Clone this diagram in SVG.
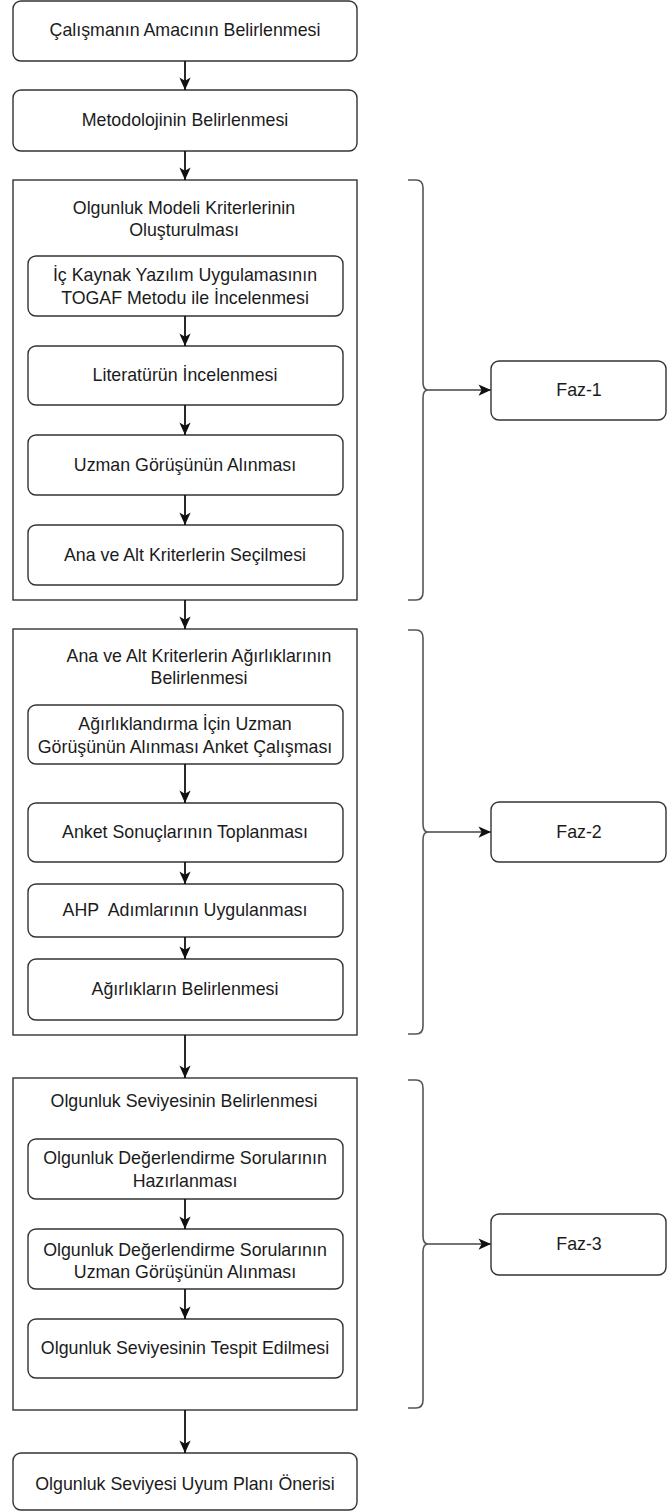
<svg xmlns="http://www.w3.org/2000/svg" width="667" height="1512" viewBox="0 0 667 1512">
  <style>
    .box { fill: #fff; stroke: #333; stroke-width: 1.4; }
    .frame { fill: #fff; stroke: #333; stroke-width: 1.4; }
    .lbl { font-family: "Liberation Sans", Arial, sans-serif; font-size: 17.8px; fill: #1b1b1b; text-anchor: middle; dominant-baseline: central; }
    .flow { stroke: #111; stroke-width: 1.8; fill: none; }
    .brace { stroke: #555; stroke-width: 1.6; fill: none; }
    .link { stroke: #444; stroke-width: 1.6; fill: none; }
  </style>
  <defs>
    <marker id="ah" viewBox="0 0 12 12" refX="11" refY="6" markerWidth="15" markerHeight="15" orient="auto" markerUnits="userSpaceOnUse">
      <path d="M1,1.5 L11,6 L1,10.5 L3.5,6 Z" fill="#111"/>
    </marker>
  </defs>

  <rect width="667" height="1512" fill="#fff"/>

  <!-- phase frames -->
  <g id="phase1">
    <rect class="frame" x="13" y="180" width="344" height="420"/>
    <text class="lbl" x="184" y="208">Olgunluk Modeli Kriterlerinin</text>
    <text class="lbl" x="184" y="230">Oluşturulması</text>
  </g>
  <g id="phase2">
    <rect class="frame" x="13" y="629" width="344" height="406"/>
    <text class="lbl" x="199" y="656">Ana ve Alt Kriterlerin Ağırlıklarının</text>
    <text class="lbl" x="199" y="678">Belirlenmesi</text>
  </g>
  <g id="phase3">
    <rect class="frame" x="13" y="1078" width="344" height="332"/>
    <text class="lbl" x="184" y="1101">Olgunluk Seviyesinin Belirlenmesi</text>
  </g>

  <!-- steps -->
  <g id="amac">
    <rect class="box" x="13" y="1" width="344" height="60" rx="8"/>
    <text class="lbl" x="185" y="30">Çalışmanın Amacının Belirlenmesi</text>
  </g>
  <g id="metodoloji">
    <rect class="box" x="13" y="90" width="344" height="61" rx="8"/>
    <text class="lbl" x="185" y="120">Metodolojinin Belirlenmesi</text>
  </g>
  <g id="togaf">
    <rect class="box" x="28" y="256" width="315" height="60" rx="8"/>
    <text class="lbl" x="185" y="275">İç Kaynak Yazılım Uygulamasının</text>
    <text class="lbl" x="185" y="298">TOGAF Metodu ile İncelenmesi</text>
  </g>
  <g id="literatur">
    <rect class="box" x="28" y="346" width="315" height="59" rx="8"/>
    <text class="lbl" x="185" y="375">Literatürün İncelenmesi</text>
  </g>
  <g id="uzman">
    <rect class="box" x="28" y="435" width="315" height="60" rx="8"/>
    <text class="lbl" x="185" y="465">Uzman Görüşünün Alınması</text>
  </g>
  <g id="secim">
    <rect class="box" x="28" y="525" width="315" height="60" rx="8"/>
    <text class="lbl" x="185" y="555">Ana ve Alt Kriterlerin Seçilmesi</text>
  </g>
  <g id="anket">
    <rect class="box" x="28" y="705" width="315" height="59" rx="8"/>
    <text class="lbl" x="185" y="724">Ağırlıklandırma İçin Uzman</text>
    <text class="lbl" x="185" y="747">Görüşünün Alınması Anket Çalışması</text>
  </g>
  <g id="sonuc">
    <rect class="box" x="28" y="803" width="315" height="59" rx="8"/>
    <text class="lbl" x="185" y="832">Anket Sonuçlarının Toplanması</text>
  </g>
  <g id="ahp">
    <rect class="box" x="28" y="884" width="315" height="53" rx="8"/>
    <text class="lbl" x="185" y="910" xml:space="preserve">AHP  Adımlarının Uygulanması</text>
  </g>
  <g id="agirlik">
    <rect class="box" x="28" y="959" width="315" height="61" rx="8"/>
    <text class="lbl" x="185" y="989">Ağırlıkların Belirlenmesi</text>
  </g>
  <g id="sorular">
    <rect class="box" x="28" y="1139" width="315" height="60" rx="8"/>
    <text class="lbl" x="185" y="1158">Olgunluk Değerlendirme Sorularının</text>
    <text class="lbl" x="185" y="1181">Hazırlanması</text>
  </g>
  <g id="gorus">
    <rect class="box" x="28" y="1229" width="315" height="60" rx="8"/>
    <text class="lbl" x="185" y="1250">Olgunluk Değerlendirme Sorularının</text>
    <text class="lbl" x="185" y="1272">Uzman Görüşünün Alınması</text>
  </g>
  <g id="tespit">
    <rect class="box" x="28" y="1319" width="315" height="59" rx="8"/>
    <text class="lbl" x="185" y="1348">Olgunluk Seviyesinin Tespit Edilmesi</text>
  </g>
  <g id="uyum">
    <rect class="box" x="13" y="1453" width="344" height="57" rx="8"/>
    <text class="lbl" x="185" y="1484">Olgunluk Seviyesi Uyum Planı Önerisi</text>
  </g>

  <!-- phase labels -->
  <g id="faz1">
    <rect class="box" x="491" y="361" width="175" height="59" rx="8"/>
    <text class="lbl" x="579" y="390">Faz-1</text>
  </g>
  <g id="faz2">
    <rect class="box" x="491" y="802" width="175" height="60" rx="8"/>
    <text class="lbl" x="579" y="832">Faz-2</text>
  </g>
  <g id="faz3">
    <rect class="box" x="491" y="1214" width="175" height="61" rx="8"/>
    <text class="lbl" x="579" y="1244">Faz-3</text>
  </g>

  <!-- connectors -->
  <g id="connectors">
    <g marker-end="url(#ah)">
      <line class="flow" x1="185" y1="61" x2="185" y2="90"/>
      <line class="flow" x1="185" y1="151" x2="185" y2="180"/>
      <line class="flow" x1="185" y1="316" x2="185" y2="346"/>
      <line class="flow" x1="185" y1="405" x2="185" y2="435"/>
      <line class="flow" x1="185" y1="495" x2="185" y2="525"/>
      <line class="flow" x1="185" y1="600" x2="185" y2="629"/>
      <line class="flow" x1="185" y1="764" x2="185" y2="803"/>
      <line class="flow" x1="185" y1="862" x2="185" y2="884"/>
      <line class="flow" x1="185" y1="937" x2="185" y2="959"/>
      <line class="flow" x1="185" y1="1035" x2="185" y2="1078"/>
      <line class="flow" x1="185" y1="1199" x2="185" y2="1229"/>
      <line class="flow" x1="185" y1="1289" x2="185" y2="1319"/>
      <line class="flow" x1="185" y1="1410" x2="185" y2="1453"/>
      <line class="link" x1="428" y1="390" x2="491" y2="390"/>
      <line class="link" x1="428" y1="832" x2="491" y2="832"/>
      <line class="link" x1="428" y1="1244" x2="491" y2="1244"/>
    </g>
    <!-- curly braces grouping each phase -->
    <path class="brace" d="M408,180 H416 Q423,180 423,188 V382 Q423,390 428,390 Q423,390 423,398 V592 Q423,600 416,600 H408"/>
    <path class="brace" d="M408,630 H416 Q423,630 423,638 V824 Q423,832 428,832 Q423,832 423,840 V1026 Q423,1034 416,1034 H408"/>
    <path class="brace" d="M408,1080 H416 Q423,1080 423,1088 V1236 Q423,1244 428,1244 Q423,1244 423,1252 V1400 Q423,1408 416,1408 H408"/>
  </g>
</svg>
